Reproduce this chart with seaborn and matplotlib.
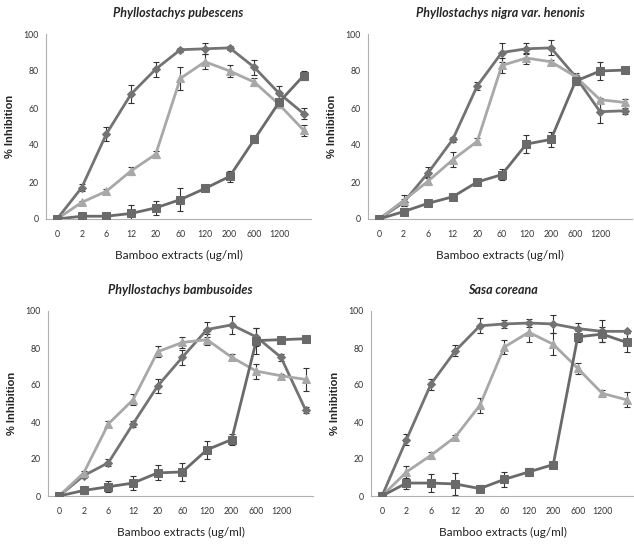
import matplotlib
matplotlib.use('Agg')
import matplotlib.pyplot as plt
import numpy as np
import pandas as pd
import seaborn as sns

sns.set_style('white')

doses = ['0', '2', '6', '12', '20', '60', '120', '200', '600', '1200', '']
titles = ['Phyllostachys pubescens', 'Phyllostachys nigra var. henonis',
          'Phyllostachys bambusoides', 'Sasa coreana']

# diamond series
dia_vals = [
    [0, 17, 46, 67.5, 81, 91.5, 92, 92.5, 82, 68, 57],
    [0, 9, 25, 43, 72, 90, 92, 92.5, 77, 58, 58.5],
    [0, 11, 18, 39, 59.5, 75, 90, 92.5, 86, 75, 46.5],
    [0, 30.5, 60.5, 78.5, 92, 93, 93.5, 93, 90.5, 89, 89],
]
dia_err = [
    [0, 2, 4, 5, 4, 1, 3, 1, 4, 4, 3],
    [0, 2, 3, 1.5, 2, 5, 3, 4, 2, 6, 1.5],
    [0, 1.5, 2, 1.5, 4, 4, 4, 5, 5, 2, 1.5],
    [0, 3, 3, 3, 4, 2, 2, 5, 3, 6, 1],
]
# triangle series
tri_vals = [
    [0, 9, 15, 26, 35, 76, 85, 80, 74, 62, 48],
    [0, 10, 20.5, 32, 42, 83, 87, 85, 77, 64.5, 63],
    [0, 12.5, 39, 52, 78, 83, 84.5, 75, 67.5, 65, 63],
    [0, 13, 22, 32, 49, 80.5, 88.5, 82, 69, 55.5, 52],
]
tri_err = [
    [0, 1, 1, 2, 2, 6, 4, 3, 2, 2, 3],
    [0, 3, 2, 4, 2, 4, 3, 1, 1, 1, 2],
    [0, 1, 1.5, 3, 3, 3, 3, 1.5, 4, 1, 6],
    [0, 3, 2, 1, 4, 4, 5, 6, 3, 2, 4],
]
# square series
sq_vals = [
    [0, 1.5, 1.5, 3, 6, 10.5, 16.5, 23, 43, 63, 77.5],
    [0, 4, 8.5, 12, 20, 24, 40.5, 43, 74.5, 80, 80.5],
    [0, 3, 5, 7, 12.5, 13, 25, 30.5, 84, 84.5, 85],
    [0, 7, 7, 6.5, 4, 9, 13, 17, 86, 87.5, 83],
]
sq_err = [
    [0, 1, 1, 4.5, 4, 6, 1.5, 3, 2, 2, 2.5],
    [0, 1, 1, 1, 1, 3, 5, 4, 2, 5, 1],
    [0, 2, 3, 4, 4, 5, 5, 3, 7, 1, 1],
    [0, 3, 5, 6, 2, 4, 2, 1, 3, 4, 5],
]

W, H = 634, 544
fig = plt.figure(figsize=(W / 100, H / 100), dpi=100)

# pixel boxes: left, top, right, bottom
boxes = [(46, 34, 311, 219), (368, 34, 632, 219),
         (48, 311, 313, 496), (371, 311, 634, 496)]

styles = [
    ('dia', dia_vals, dia_err, '#737373', 'D', 4.5),
    ('tri', tri_vals, tri_err, '#a8a8a8', '^', 5.5),
    ('sq', sq_vals, sq_err, '#6a6a6a', 's', 6),
]

x = np.arange(len(doses))
for k in range(4):
    l, t, r, b = boxes[k]
    ax = fig.add_axes([l / W, 1 - b / H, (r - l) / W, (b - t) / H])
    for name, vals, errs, col, mk, ms in styles:
        df = pd.DataFrame({'x': x, 'y': vals[k]})
        ax.errorbar(x, vals[k], yerr=errs[k], fmt='none', ecolor='#333333',
                    elinewidth=0.8, capsize=2, capthick=0.8, zorder=2)
        sns.lineplot(data=df, x='x', y='y', ax=ax, color=col, marker=mk,
                     markersize=ms, markeredgecolor=col, linewidth=2, zorder=3)
    ax.set_xlim(-0.45, 10.3)
    ax.set_ylim(0, 100)
    ax.set_xticks(x[:-1])
    ax.set_xticklabels(doses[:-1], fontsize=6.3, family='Lato', color='#333333')
    ax.set_xticks(np.arange(0.5, 10.5, 1), minor=True)
    ax.set_yticks([0, 20, 40, 60, 80, 100])
    ax.set_yticklabels(['0', '20', '40', '60', '80', '100'], fontsize=6.3,
                       family='Lato', color='#333333')
    ax.tick_params(axis='x', which='major', length=0, pad=8)
    ax.tick_params(axis='x', which='minor', length=3, width=0.6, color='#b0b0b0',
                   direction='out')
    ax.tick_params(axis='y', length=3, width=0.6, color='#b0b0b0', direction='out', pad=2)
    for s in ['top', 'right']:
        ax.spines[s].set_visible(False)
    for s in ['left', 'bottom']:
        ax.spines[s].set_color('#b0b0b0')
        ax.spines[s].set_linewidth(0.8)
    ax.set_xlabel('Bamboo extracts (ug/ml)', fontsize=8.5, family='Lato',
                  color='#222222', labelpad=8)
    ax.set_ylabel('% Inhibition', fontsize=8, fontweight='bold',
                  family='Liberation Sans', labelpad=6)
    ax.set_title(titles[k], fontsize=9, fontweight='bold', fontstyle='italic',
                 family='Lato', pad=12)

fig.savefig('out.png', dpi=100)
